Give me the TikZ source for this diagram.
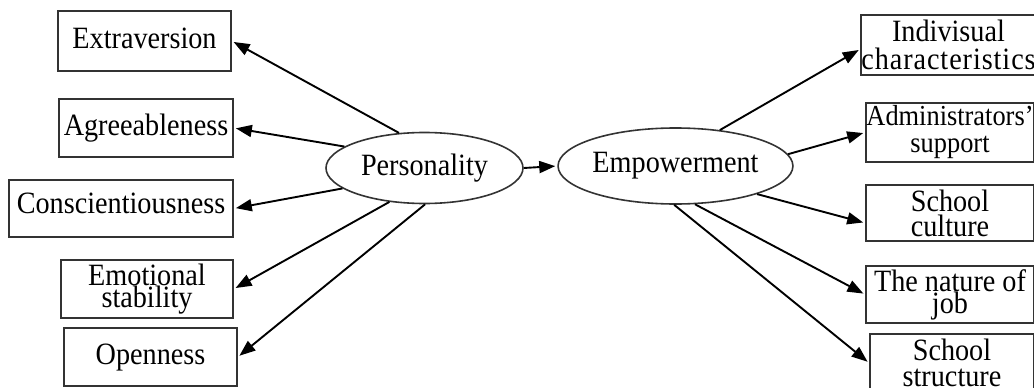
\documentclass[tikz,border=0pt]{standalone}
\usepackage{fontspec}
\setmainfont[FakeStretch=0.91]{Liberation Serif}
\usetikzlibrary{arrows.meta,shapes.geometric,calc}

\begin{document}
\begin{tikzpicture}[x=1pt,y=-1pt,
  box/.style={draw=black!80, line width=1.7pt, rectangle, inner sep=0pt,
    align=center, font=\fontsize{31}{25}\selectfont},
  single/.style={box, text height=21pt, text depth=7pt},
  oval/.style={draw=black!80, line width=1.6pt, ellipse, inner sep=0pt,
    font=\fontsize{31}{25}\selectfont},
  link/.style={line width=1.9pt, shorten >=2pt,
    -{Triangle[length=16pt,width=12pt]}}]
\path[use as bounding box] (0,0) rectangle (1034,388);
\clip (0,0) rectangle (1034,388);

% personality traits
\node[single, minimum width=173pt, minimum height=60pt] (ext) at (144.5,41) {Extraversion};
\node[single, minimum width=174pt, minimum height=58pt] (agr) at (146,128) {Agreeableness};
\node[single, text depth=12pt, minimum width=224pt, minimum height=57pt] (con) at (121,208.5) {Conscientiousness};
\node[box, font=\fontsize{31}{22}\selectfont, minimum width=172pt, minimum height=58pt] (emo) at (147,289) {Emotional\\stability};
\node[single, minimum width=173pt, minimum height=58pt] (ope) at (150.5,357) {Openness};

% central constructs
\node[oval, minimum width=197pt, minimum height=71pt] (pers) at (424.5,168) {Personality};
\node[oval, minimum width=195pt, minimum height=76pt] (emp) at (675.5,166) {Empowerment};

% empowerment dimensions
\node[box, font=\fontsize{31}{28}\selectfont, minimum width=171pt, minimum height=60pt] (ind) at (948.5,45)
  {Indivisual\\{\addfontfeature{LetterSpace=3}characteristics}};
\node[box, font=\fontsize{29}{27}\selectfont, minimum width=168pt, minimum height=59pt] (adm) at (950,132.5)
  {Administrators'\\support};
\node[box, minimum width=168pt, minimum height=56pt] (cul) at (950,213) {School\\culture};
\node[box, font=\fontsize{31}{22}\selectfont, minimum width=168pt, minimum height=57pt] (nat) at (950,294.5)
  {The nature of\\job};
\node[box, font=\fontsize{31}{26}\selectfont, minimum width=164pt, minimum height=58pt] (str) at (952,363)
  {School\\structure};

% arrows
\draw[link] (pers.126) -- (ext.east);
\draw[link] (pers.165) -- (agr.east);
\draw[link] (pers.194.5) -- (con.east);
\draw[link] (pers.224.5) -- (emo.east);
\draw[link] (pers.271) -- (ope.east);
\draw[link] (pers.east) -- (emp.west);
\draw[link] (emp.39.5) -- ($(ind.west)+(0,4)$);
\draw[link] (emp.6.6) -- (adm.west);
\draw[link] (emp.341.5) -- ($(cul.west)+(0,10)$);
\draw[link] (emp.297.5) -- (nat.west);
\draw[link] (emp.268) -- (str.west);
\end{tikzpicture}
\end{document}
